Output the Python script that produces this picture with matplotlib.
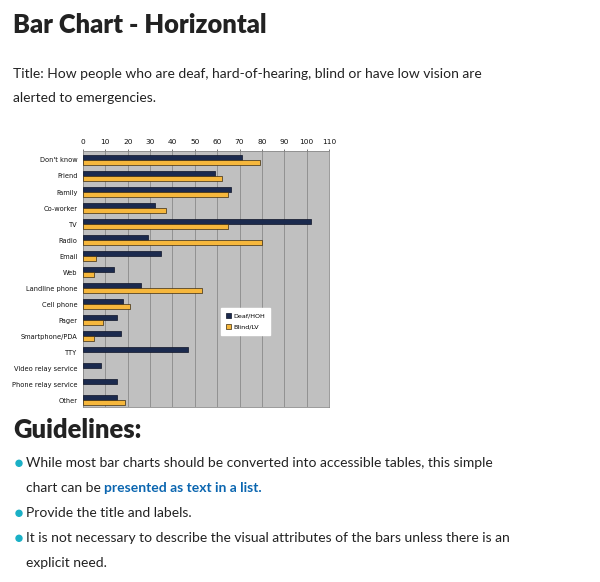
import matplotlib
matplotlib.use('Agg')
import matplotlib.pyplot as plt
import numpy as np

# data
categories = ['Don\'t know', 'Friend', 'Family', 'Co-worker', 'TV', 'Radio', 'Email', 'Web',
              'Landline phone', 'Cell phone', 'Pager', 'Smartphone/PDA', 'TTY',
              'Video relay service', 'Phone relay service', 'Other']
deaf_hoh = [71, 59, 66, 32, 102, 29, 35, 14, 26, 18, 15, 17, 47, 8, 15, 15]
blind_lv = [79, 62, 65, 37, 65, 80, 6, 5, 53, 21, 9, 5, 0, 0, 0, 19]
x_ticks = list(range(0, 111, 10))

heading = 'Bar Chart - Horizontal'
title_lines = ['Title: How people who are deaf, hard-of-hearing, blind or have low vision are',
               'alerted to emergencies.']
guide_head = 'Guidelines:'

W, H = 600, 582
fig = plt.figure(figsize=(W / 100, H / 100), dpi=100)
fig.patch.set_facecolor('white')

def fy(y):  # pixel from top -> figure fraction
    return 1 - y / H

def fx(x):
    return x / W

txt_col = '#222222'
body_font = ['Lato', 'DejaVu Sans']
body_size = 10.0
head_size = 18.4

# page text
fig.text(fx(13), fy(33), heading, fontsize=head_size, fontweight='heavy', color=txt_col,
         family=body_font, va='baseline')
fig.text(fx(13), fy(78), title_lines[0], fontsize=body_size, color=txt_col, family=body_font, va='baseline')
fig.text(fx(13), fy(102), title_lines[1], fontsize=body_size, color=txt_col, family=body_font, va='baseline')

# chart
ax = fig.add_axes([fx(83), fy(407), fx(329) - fx(83), (407 - 151) / H])
ax.set_facecolor('#c0c0c0')
y = np.arange(len(categories))
h = 0.3
ax.barh(y - h / 2, deaf_hoh, height=h, color='#1b2a4e', edgecolor='#0d1326', linewidth=0.5,
        label='Deaf/HOH', zorder=3)
bl = np.array(blind_lv, dtype=float)
mask = bl > 0
ax.barh(y[mask] + h / 2, bl[mask], height=h, color='#f6b73c', edgecolor='#3a2a10', linewidth=0.5,
        label='Blind/LV', zorder=3)
ax.set_xlim(0, 110)
ax.set_ylim(15.42, -0.56)
ax.set_xticks(x_ticks)
ax.xaxis.tick_top()
ax.tick_params(axis='x', labelsize=5.3, length=1.5, width=0.4, pad=3, colors='#111111')
ax.tick_params(axis='y', labelsize=4.8, length=0, pad=4, colors='#111111')
ax.set_yticks(y)
ax.set_yticklabels(categories)
ax.grid(axis='x', color='#8a8a8a', linewidth=0.6, zorder=0)
for s in ax.spines.values():
    s.set_color('#8a8a8a')
    s.set_linewidth(0.6)
leg = ax.legend(loc='lower left', bbox_to_anchor=(0.561, 0.281), fontsize=4.6, frameon=True,
                fancybox=False, edgecolor='white', framealpha=1, handlelength=0.8,
                handleheight=0.8, handletextpad=0.3, borderpad=0.8, labelspacing=0.9,
                borderaxespad=0)

# guidelines
fig.text(fx(13), fy(438), guide_head, fontsize=head_size, fontweight='heavy', color=txt_col,
         family=body_font, va='baseline')
bullet_col = '#1ab0c6'
link_col = '#0b66b0'
lines = [
    (467.3, 'While most bar charts should be converted into accessible tables, this simple', True),
    (492.3, 'chart can be ', False),
    (517.3, 'Provide the title and labels.', True),
    (542.3, 'It is not necessary to describe the visual attributes of the bars unless there is an', True),
    (566.7, 'explicit need.', False),
]
renderer = fig.canvas.get_renderer()
for yy, s, dot in lines:
    t = fig.text(fx(26), fy(yy), s, fontsize=body_size, color=txt_col, family=body_font, va='baseline')
    if dot:
        fig.patches.append(plt.Circle((19, H - yy + 4), 3.0, color=bullet_col,
                                      transform=None, figure=fig))
    if s.startswith('chart can be'):
        bb = t.get_window_extent(renderer)
        fig.text(bb.x1 / W, fy(yy), 'presented as text in a list.', fontsize=body_size,
                 fontweight='bold', color=link_col, family=body_font, va='baseline')

fig.savefig('out.png', dpi=100)
